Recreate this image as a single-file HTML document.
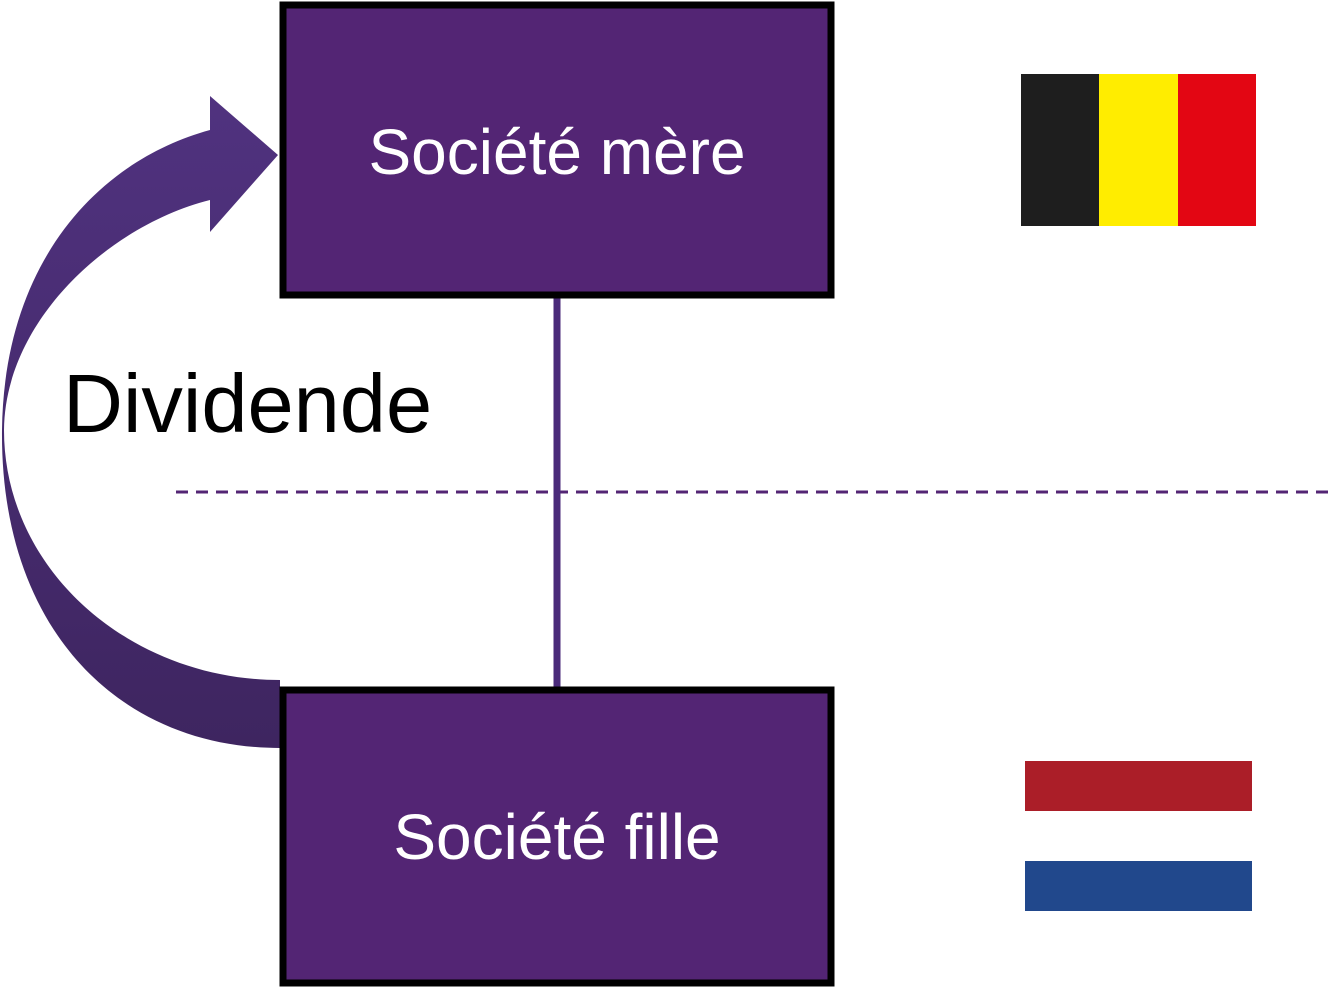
<!DOCTYPE html>
<html><head><meta charset="utf-8"><style>
body{margin:0;width:1331px;height:988px;background:#fff;overflow:hidden}
</style></head><body>
<svg width="1331" height="988" viewBox="0 0 1331 988" xmlns="http://www.w3.org/2000/svg">
<defs><linearGradient id="g" x1="0" y1="0" x2="0" y2="1">
<stop offset="0" stop-color="#50327f"/><stop offset="1" stop-color="#3e2560"/></linearGradient></defs>
<line x1="176" y1="492" x2="1331" y2="492" stroke="#532574" stroke-width="3" stroke-dasharray="12,8"/>
<path d="M280,748 C120,748 0,630 2,430 C4,260 100,160 210,130 L210,96 L278,155 L210,232 L210,200 C110,225 5,320 4,430 C4,570 130,680 280,680 Z" fill="url(#g)"/>
<line x1="557" y1="298" x2="557" y2="688" stroke="#4a2a7a" stroke-width="7"/>
<rect x="283" y="5" width="548" height="290" fill="#532574" stroke="#000" stroke-width="7"/>
<rect x="283" y="690" width="548" height="293" fill="#532574" stroke="#000" stroke-width="7"/>
<text x="557" y="174" font-family="Liberation Sans, sans-serif" font-size="64" fill="#fff" text-anchor="middle">Société mère</text>
<text x="557" y="859" font-family="Liberation Sans, sans-serif" font-size="64" fill="#fff" text-anchor="middle">Société fille</text>
<text x="63" y="432" font-family="Liberation Sans, sans-serif" font-size="83" fill="#000">Dividende</text>
<rect x="1021" y="74" width="79" height="152" fill="#1e1e1e"/>
<rect x="1099" y="74" width="80" height="152" fill="#ffed00"/>
<rect x="1178" y="74" width="78" height="152" fill="#e30613"/>
<rect x="1025" y="761" width="227" height="50" fill="#ab1e28"/>
<rect x="1025" y="861" width="227" height="50" fill="#21488c"/>
</svg>
</body></html>
